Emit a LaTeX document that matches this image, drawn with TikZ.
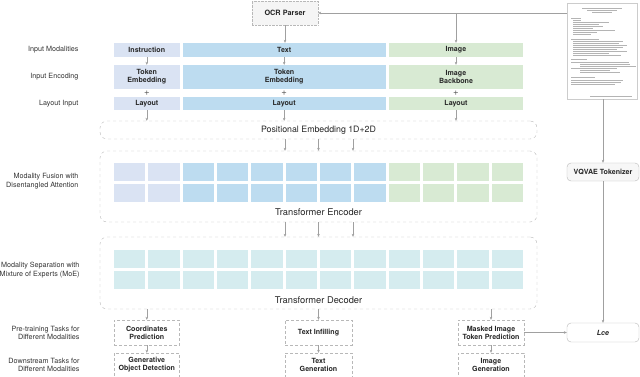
\documentclass[tikz,border=0pt]{standalone}
\usepackage{fontspec}
\setmainfont{TeX Gyre Heros}
\usetikzlibrary{arrows.meta,calc,positioning}
\definecolor{InstrFill}{HTML}{DAE3F3}
\definecolor{TextFill}{HTML}{BDDCF0}
\definecolor{ImgFill}{HTML}{D8EAD3}
\definecolor{DecFill}{HTML}{D5ECEF}
\definecolor{EdgeGray}{HTML}{B8B8B8}
\definecolor{ArrGray}{HTML}{A0A0A0}
\definecolor{LabelGray}{HTML}{333333}
\definecolor{DocInk}{HTML}{B4B4B4}

\begin{document}
\begin{tikzpicture}[x=1pt,y=-1pt,
  modbox/.style={inner sep=0pt,align=center,text=black!85,font=\fontsize{7.1}{8}\selectfont\bfseries},
  taskbox/.style={modbox,draw=EdgeGray,densely dashed,minimum height=25pt},
  rowlab/.style={anchor=east,align=right,text=LabelGray,font=\fontsize{7.2}{8.6}\selectfont},
  stage/.style={draw=EdgeGray,dashed,rounded corners=7pt,minimum width=437pt,inner sep=0pt},
  stagelab/.style={text=black!85,font=\fontsize{9.3}{10}\selectfont},
  arr/.style={-{Stealth[length=3pt,width=2.6pt]},ArrGray,thin},
  cell/.style={inner sep=0pt,minimum width=31.3pt,minimum height=18pt},
  sidebox/.style={draw=EdgeGray,rounded corners=4pt,minimum width=72pt,inner sep=0pt,
    text=black!85,font=\fontsize{7.1}{8}\selectfont\bfseries}]
  \useasboundingbox (0,0) rectangle (640,377);

  % row labels
  \node[rowlab] (lab-mod) at (82,50) {Input Modalities};
  \node[rowlab] (lab-enc) at (82,77) {Input Encoding};
  \node[rowlab] (lab-lay) at (82,103.5) {Layout Input};
  \node[rowlab] (lab-fus) at (82,181) {Modality Fusion with\\Disentangled Attention};
  \node[rowlab] (lab-sep) at (83,270) {Modality Separation with\\Mixture of Experts (MoE)};
  \node[rowlab] (lab-pre) at (83,333) {Pre-training Tasks for\\Different Modalities};
  \node[rowlab] (lab-down) at (83,365) {Downstream Tasks for\\Different Modalities};

  % inputs
  \node[modbox,fill=InstrFill,minimum width=65.6pt,minimum height=14pt] (instr) at (146.8,50) {Instruction};
  \node[modbox,fill=TextFill,minimum width=202.9pt,minimum height=14pt] (txt) at (284.15,50) {Text};
  \node[modbox,fill=ImgFill,minimum width=134.6pt,minimum height=14pt] (img) at (456,50) {Image};
  \node[modbox,fill=InstrFill,minimum width=65.6pt,minimum height=24pt] (instrEnc) at (146.8,77) {Token\\Embedding};
  \node[modbox,fill=TextFill,minimum width=202.9pt,minimum height=24pt] (txtEnc) at (284.15,77) {Token\\Embedding};
  \node[modbox,fill=ImgFill,minimum width=134.6pt,minimum height=24pt] (imgEnc) at (456,77) {Image\\Backbone};
  \node[modbox,fill=InstrFill,minimum width=65.6pt,minimum height=13pt] (instrLay) at (146.8,103.5) {Layout};
  \node[modbox,fill=TextFill,minimum width=202.9pt,minimum height=13pt] (txtLay) at (284.15,103.5) {Layout};
  \node[modbox,fill=ImgFill,minimum width=134.6pt,minimum height=13pt] (imgLay) at (456,103.5) {Layout};
  \foreach \m in {instr,txt,img} {
    \node[text=black!65,inner sep=0pt,font=\fontsize{9.5}{9.5}\selectfont] (\m-plus) at ($(\m Enc.south)!0.5!(\m Lay.north)$) {+};
    \draw[arr] (\m.south) -- (\m Enc.north);
  }

  % OCR parser and page
  \node[draw=EdgeGray,densely dotted,fill=gray!8,minimum width=66pt,minimum height=24pt,
    text=black!85,font=\fontsize{7.3}{8}\selectfont\bfseries] (ocr) at (285,13) {OCR Parser};
  \node[draw=gray!40,fill=white,minimum width=70pt,minimum height=96pt,inner sep=0pt] (doc) at (602,51) {};
  \foreach \yy/\ll in {8/40,10/30,12/20} \draw[DocInk,line width=0.4pt] (602-\ll/2,\yy) -- ++(\ll,0);
  \foreach \yy/\xx/\ll in {18/571/10,20.5/573/8,22.5/573/36,24.5/573/26,26.5/573/30,28.5/573/20,30.5/573/42,32.5/573/24,34.5/573/18,
    39/571/28,41/573/50,43/573/46,45/573/54,47/573/50,49/573/44,51/573/54,53/573/36,55/573/48,
    59/571/16,62/571/58,64/580/50,66/580/56,68/571/46,70/580/30,72/580/40,
    77/571/24,80/571/52,82/571/50,84/571/44}
    \draw[DocInk,line width=0.35pt] (\xx,\yy) -- ++(\ll,0);
  \draw[DocInk,line width=0.35pt] (590,96) -- (632,96);
  \coordinate (split) at (img.north |- ocr.east);
  \draw[arr] (doc.west |- ocr.east) -- (ocr.east);
  \draw[arr] (split) -- (img.north);
  \draw[arr] (ocr.south) -- (ocr.south |- txt.north);

  % positional embedding
  \node[stage,minimum height=18pt,stagelab,font=\fontsize{8.8}{10}\selectfont] (pos) at (318.5,130) {Positional Embedding 1D+2D};
  \foreach \m in {instr,txt,img}
    \draw[arr] (\m Lay.south) -- (\m Lay.south |- pos.north);

  % encoder and decoder
  \node[stage,minimum height=71pt] (enc) at (318.5,186.5) {};
  \node[stagelab] (enc-lab) at (318.5,212) {Transformer Encoder};
  \node[stage,minimum height=72pt] (dec) at (318.5,273) {};
  \node[stagelab] (dec-lab) at (318.5,300) {Transformer Decoder};
  \foreach \i in {1,...,12} {
    \pgfmathsetmacro\cx{129.65+(\i-1)*34.33}
    \ifnum\i<3 \def\cc{InstrFill}\else\ifnum\i<9 \def\cc{TextFill}\else\def\cc{ImgFill}\fi\fi
    \node[cell,fill=\cc] (enc-\i-a) at (\cx,172) {};
    \node[cell,fill=\cc] (enc-\i-b) at (\cx,193) {};
    \node[cell,fill=DecFill] (dec-\i-a) at (\cx,259) {};
    \node[cell,fill=DecFill] (dec-\i-b) at (\cx,280) {};
  }
  \foreach \dx in {-33.5,0,34.5} {
    \draw[arr] ([xshift=\dx pt]pos.south) -- ([xshift=\dx pt]enc.north);
    \draw[arr] ([xshift=\dx pt]enc.south) -- ([xshift=\dx pt]dec.north);
  }

  % tasks
  \node[taskbox,minimum width=65.6pt] (coord) at (146.8,332.5) {Coordinates\\Prediction};
  \node[taskbox,minimum width=67pt] (infill) at (318.5,332.5) {Text Infilling};
  \node[taskbox,minimum width=66pt] (mitp) at (491,332.5) {Masked Image\\Token Prediction};
  \node[taskbox,minimum width=65.6pt,minimum height=24pt] (god) at (146.8,365) {Generative\\Object Detection};
  \node[taskbox,minimum width=67pt,minimum height=24pt] (tgen) at (318.5,365) {Text\\Generation};
  \node[taskbox,minimum width=66pt,minimum height=24pt] (igen) at (491,365) {Image\\Generation};
  \foreach \t/\d in {coord/god,infill/tgen,mitp/igen} {
    \draw[arr] (dec.south -| \t.north) -- (\t.north);
    \draw[arr] (\t.south) -- (\d.north);
  }

  % tokenizer and loss
  \node[sidebox,fill=gray!6,minimum height=18pt] (vq) at (603,172) {VQVAE Tokenizer};
  \node[sidebox,fill=white,minimum height=19pt] (lce) at (603,332.5) {\itshape Lce};
  \draw[arr] (doc.south -| vq.north) -- (vq.north);
  \draw[arr] (vq.south) -- (lce.north);
  \draw[arr] (mitp.east) -- (lce.west);
\end{tikzpicture}
\end{document}
